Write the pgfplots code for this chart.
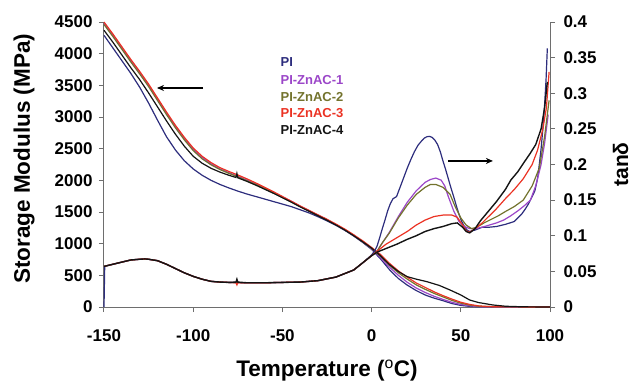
\documentclass[border=0pt]{standalone}
\usepackage{pgfplots}
\pgfplotsset{compat=1.18}
\usepackage{fontspec}
\setmainfont{Liberation Sans}
\usetikzlibrary{arrows.meta}
\definecolor{cPI}{RGB}{45,45,125}
\definecolor{cA}{RGB}{155,70,200}
\definecolor{cB}{RGB}{115,115,45}
\definecolor{cC}{RGB}{235,50,35}
\definecolor{cD}{RGB}{20,20,20}
\definecolor{axc}{RGB}{110,110,110}
\begin{document}
\begin{tikzpicture}[x=1pt,y=1pt]
\useasboundingbox (-104,-74) rectangle (530,307);
\pgfplotsset{
  common/.style={
    at={(0,0)}, anchor=south west, scale only axis, width=446pt, height=285pt,
    xmin=-150, xmax=100, clip=false,
    axis line style={-, draw=axc, line width=1pt},
    tick align=outside, major tick length=5pt,
    tick style={draw=axc, line width=1pt},
    tick label style={font=\fontsize{17}{17}\selectfont\bfseries},
    every axis plot/.append style={line width=1.2pt, no markers},
  }
}
% ---------------- storage modulus (left axis)
\begin{axis}[common,
  ymin=0, ymax=4500,
  axis x line*=bottom, axis y line*=left,
  xtick={-150,-100,-50,0,50,100},
  xticklabels={-150,-100,-50,0,50,100},
  xticklabel style={yshift=-14pt},
  ytick={0,500,1000,1500,2000,2500,3000,3500,4000,4500},
  yticklabels={0,500,1000,1500,2000,2500,3000,3500,4000,4500},
  yticklabel style={xshift=-3pt},
  xlabel={Temperature ($^{\mathrm{o}}$C)},
  every axis x label/.style={at={(axis description cs:0.5,-0.222)}, anchor=center, font=\fontsize{22.5}{22.5}\selectfont\bfseries},
  ylabel={Storage Modulus (MPa)},
  every axis y label/.style={at={(axis description cs:-0.1794,0.52)}, anchor=center, rotate=90, font=\fontsize{22.5}{22.5}\selectfont\bfseries},
]
\addplot[cPI] coordinates {(-150,4290)(-145,4090)(-140,3890)(-135,3690)(-130,3470)(-125,3220)(-120,2950)(-115,2690)(-110,2480)(-105,2310)(-100,2180)(-95,2080)(-90,2000)(-85,1935)(-80,1880)(-75,1830)(-70,1785)(-65,1745)(-60,1705)(-55,1665)(-50,1625)(-45,1585)(-40,1535)(-35,1485)(-30,1425)(-25,1360)(-20,1290)(-15,1210)(-10,1120)(-5,1020)(0,910)(5,760)(10,590)(15,450)(20,345)(25,260)(30,190)(35,140)(40,100)(45,55)(50,25)(55,10)(60,3)(70,1)(100,0)};
\addplot[cA] coordinates {(-150,4480)(-145,4290)(-140,4090)(-135,3890)(-130,3700)(-125,3500)(-120,3280)(-115,3060)(-110,2850)(-105,2660)(-100,2490)(-95,2360)(-90,2260)(-85,2180)(-80,2120)(-75,2065)(-70,2005)(-65,1945)(-60,1880)(-55,1810)(-50,1740)(-45,1670)(-40,1590)(-35,1520)(-30,1450)(-25,1380)(-20,1300)(-15,1220)(-10,1130)(-5,1030)(0,920)(5,780)(10,630)(15,500)(20,390)(25,300)(30,230)(35,170)(40,120)(45,75)(50,40)(55,18)(60,6)(70,1)(100,0)};
\addplot[cB] coordinates {(-150,4460)(-145,4270)(-140,4070)(-135,3870)(-130,3680)(-125,3480)(-120,3260)(-115,3040)(-110,2830)(-105,2640)(-100,2470)(-95,2340)(-90,2245)(-85,2170)(-80,2110)(-75,2055)(-70,1995)(-65,1935)(-60,1870)(-55,1800)(-50,1730)(-45,1660)(-40,1585)(-35,1515)(-30,1445)(-25,1375)(-20,1300)(-15,1220)(-10,1130)(-5,1030)(0,925)(5,800)(10,660)(15,540)(20,440)(25,350)(30,280)(35,215)(40,160)(45,105)(50,60)(55,30)(60,12)(70,3)(100,0)};
\addplot[cC] coordinates {(-150,4500)(-145,4310)(-140,4110)(-135,3910)(-130,3720)(-125,3520)(-120,3300)(-115,3080)(-110,2870)(-105,2680)(-100,2510)(-95,2380)(-90,2280)(-85,2200)(-80,2140)(-75,2085)(-70,2025)(-65,1960)(-60,1890)(-55,1820)(-50,1745)(-45,1670)(-40,1595)(-35,1525)(-30,1455)(-25,1385)(-20,1310)(-15,1230)(-10,1140)(-5,1045)(0,940)(5,830)(10,690)(15,570)(20,470)(25,380)(30,310)(35,240)(40,180)(45,125)(50,75)(55,40)(60,18)(65,8)(70,3)(100,0)};
\addplot[cD] coordinates {(-150,4370)(-145,4180)(-140,3980)(-135,3780)(-130,3590)(-125,3380)(-120,3160)(-115,2940)(-110,2730)(-105,2540)(-100,2380)(-95,2270)(-90,2190)(-85,2130)(-80,2080)(-76,2045)(-75.5,2110)(-75,2040)(-70,1985)(-65,1925)(-60,1860)(-55,1795)(-50,1725)(-45,1655)(-40,1580)(-35,1510)(-30,1440)(-25,1370)(-20,1295)(-15,1215)(-10,1125)(-5,1030)(0,930)(5,810)(10,670)(15,560)(20,479)(25,440)(31,400)(38,340)(44,268)(50,190)(55,110)(60,70)(68,32)(75,12)(85,3)(100,0)};
% legend (text only)
\node[anchor=west, text=cPI, font=\fontsize{13}{13}\selectfont\bfseries] at (axis cs:-53,3868) {PI};
\node[anchor=west, text=cA, font=\fontsize{13}{13}\selectfont\bfseries] at (axis cs:-53,3584) {PI-ZnAC-1};
\node[anchor=west, text=cB, font=\fontsize{13}{13}\selectfont\bfseries] at (axis cs:-53,3316) {PI-ZnAC-2};
\node[anchor=west, text=cC, font=\fontsize{13}{13}\selectfont\bfseries] at (axis cs:-53,3063) {PI-ZnAC-3};
\node[anchor=west, text=cD, font=\fontsize{13}{13}\selectfont\bfseries] at (axis cs:-53,2795) {PI-ZnAC-4};
\draw[-{Stealth[length=7pt,width=6pt]}, line width=1.3pt] (axis cs:-94.5,3458) -- (axis cs:-120.3,3458);
\end{axis}
% ---------------- tan delta (right axis)
\begin{axis}[common,
  ymin=0, ymax=0.4,
  axis y line*=right, axis x line=none,
  ytick={0,0.05,0.1,0.15,0.2,0.25,0.3,0.35,0.4},
  yticklabels={0,0.05,0.1,0.15,0.2,0.25,0.3,0.35,0.4},
  yticklabel style={xshift=5pt},
  ylabel={tanδ},
  every axis y label/.style={at={(axis description cs:1.175,0.5)}, anchor=base, rotate=90, font=\fontsize{21}{21}\selectfont\bfseries},
]
\addplot[cPI, mark=*, mark size=0.7pt] coordinates {(-150,0)(-149.6,0.057)(-145,0.060)(-140,0.063)(-135,0.066)(-130,0.067)(-127,0.0675)(-125,0.067)(-120,0.065)(-115,0.060)(-110,0.054)(-105,0.048)(-100,0.043)(-95,0.039)(-90,0.036)(-85,0.035)(-80,0.0345)(-70,0.034)(-60,0.034)(-50,0.0345)(-40,0.035)(-30,0.037)(-20,0.042)(-10,0.052)(-5,0.062)(0,0.073)(1.5,0.078)(3,0.085)(4.5,0.097)(6,0.11)(7.5,0.122)(9,0.135)(10.5,0.145)(12,0.152)(14,0.155)(15.5,0.165)(17,0.175)(18.5,0.185)(20,0.195)(22,0.207)(24,0.218)(26,0.227)(28,0.233)(29.5,0.237)(31,0.239)(32.5,0.2395)(34,0.238)(35.5,0.234)(37,0.228)(38.5,0.218)(40,0.205)(41.5,0.193)(43,0.18)(44.5,0.167)(46,0.155)(47.5,0.142)(49,0.13)(50.5,0.12)(52,0.113)(53.5,0.108)(55,0.106)(58,0.108)(62,0.112)(66,0.112)(70,0.113)(75,0.116)(80,0.12)(84,0.13)(86,0.137)(88,0.145)(90,0.155)(91.5,0.163)(93,0.18)(94,0.2)(95,0.222)(96,0.25)(97,0.285)(97.8,0.32)(98.5,0.363)};
\addplot[cA] coordinates {(-150,0.057)(-145,0.060)(-140,0.063)(-135,0.066)(-130,0.067)(-127,0.0675)(-125,0.067)(-120,0.065)(-115,0.060)(-110,0.054)(-105,0.048)(-100,0.043)(-95,0.039)(-90,0.036)(-85,0.035)(-80,0.0345)(-70,0.034)(-60,0.034)(-50,0.0345)(-40,0.035)(-30,0.037)(-20,0.042)(-10,0.052)(-5,0.062)(0,0.072)(3,0.078)(6,0.09)(10,0.105)(15,0.127)(20,0.147)(25,0.163)(30,0.175)(33,0.179)(36,0.181)(39,0.178)(41,0.17)(43,0.155)(46,0.135)(49,0.12)(52,0.113)(55,0.11)(58,0.11)(62,0.112)(66,0.115)(70,0.118)(74,0.122)(78,0.128)(82,0.135)(86,0.143)(89,0.15)(92,0.17)(95,0.2)(97,0.23)(99,0.27)};
\addplot[cB] coordinates {(-150,0.057)(-145,0.060)(-140,0.063)(-135,0.066)(-130,0.067)(-127,0.0675)(-125,0.067)(-120,0.065)(-115,0.060)(-110,0.054)(-105,0.048)(-100,0.043)(-95,0.039)(-90,0.036)(-85,0.035)(-80,0.0345)(-70,0.034)(-60,0.034)(-50,0.0345)(-40,0.035)(-30,0.037)(-20,0.042)(-10,0.052)(-5,0.062)(0,0.072)(3,0.078)(6,0.09)(10,0.104)(15,0.125)(20,0.143)(25,0.158)(30,0.168)(33,0.172)(36,0.172)(40,0.168)(44,0.158)(47,0.14)(50,0.125)(53,0.115)(56,0.11)(59,0.112)(63,0.118)(67,0.123)(71,0.128)(75,0.134)(80,0.141)(85,0.15)(90,0.17)(94,0.195)(97,0.24)(99.5,0.29)};
\addplot[cC] coordinates {(-150,0.057)(-145,0.060)(-140,0.063)(-135,0.066)(-130,0.067)(-127,0.0675)(-125,0.067)(-120,0.065)(-115,0.060)(-110,0.054)(-105,0.048)(-100,0.043)(-95,0.039)(-90,0.036)(-85,0.035)(-80,0.0345)(-76,0.034)(-75.5,0.031)(-75,0.034)(-70,0.034)(-60,0.034)(-50,0.0345)(-40,0.035)(-30,0.037)(-20,0.042)(-10,0.052)(-5,0.062)(0,0.072)(3,0.078)(8,0.088)(14,0.097)(20,0.106)(25,0.115)(30,0.122)(35,0.127)(40,0.129)(45,0.129)(48,0.126)(51,0.115)(53,0.107)(55,0.105)(58,0.11)(62,0.118)(66,0.128)(70,0.138)(75,0.152)(80,0.165)(85,0.18)(90,0.2)(93,0.22)(96,0.25)(98,0.28)(99.5,0.33)};
\addplot[cD, line width=1.4pt] coordinates {(-150,0.057)(-145,0.060)(-140,0.063)(-135,0.066)(-130,0.067)(-127,0.0675)(-125,0.067)(-120,0.065)(-115,0.060)(-110,0.054)(-105,0.048)(-100,0.043)(-95,0.039)(-90,0.036)(-85,0.035)(-80,0.0345)(-76,0.035)(-75.5,0.039)(-75,0.035)(-70,0.034)(-60,0.034)(-50,0.0345)(-40,0.035)(-30,0.037)(-20,0.042)(-10,0.052)(-5,0.062)(0,0.072)(3,0.077)(8,0.082)(14,0.088)(20,0.095)(25,0.1)(30,0.106)(35,0.11)(40,0.113)(45,0.117)(48,0.118)(51,0.112)(53,0.106)(55,0.104)(58,0.11)(61,0.121)(65,0.133)(70,0.148)(75,0.165)(78,0.178)(82,0.19)(86,0.205)(89,0.216)(92,0.228)(95,0.25)(97,0.28)(98.5,0.316)};
\draw[-{Stealth[length=7pt,width=6pt]}, line width=1.3pt] (axis cs:42.8,0.205) -- (axis cs:68,0.205);
\end{axis}
\end{tikzpicture}
\end{document}
